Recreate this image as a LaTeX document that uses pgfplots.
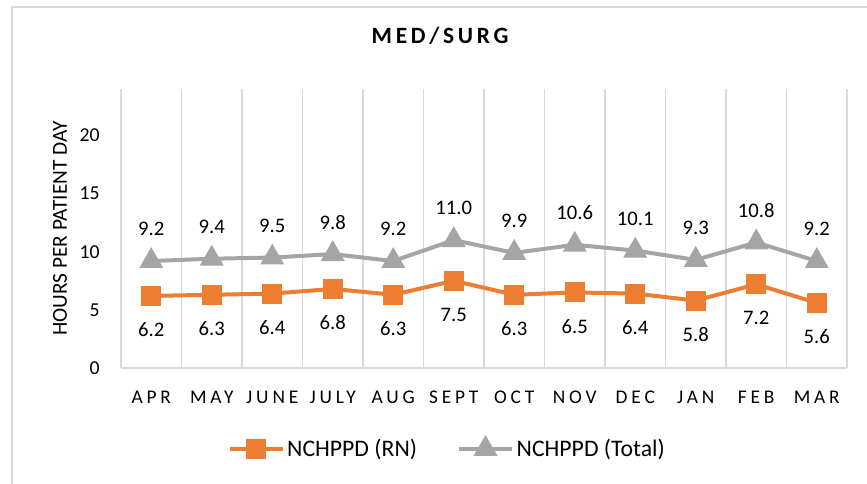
\documentclass[border=0pt]{standalone}
\usepackage{fontspec}
\setmainfont{Carlito}
\usepackage{pgfplots}
\pgfplotsset{compat=1.18}
\definecolor{rnorange}{HTML}{ED7D31}
\definecolor{totgray}{HTML}{A5A5A5}
\definecolor{gridgray}{HTML}{D9D9D9}
\begin{document}
\begin{tikzpicture}[x=1pt,y=1pt]
\useasboundingbox (0,0) rectangle (650.25,362.25);
\clip (0,0) rectangle (650.25,362.25);
\draw[gridgray, line width=1.2pt] (9,357) rectangle (700,-20);
\begin{axis}[
  at={(90.75pt,86.25pt)}, anchor=south west,
  scale only axis, width=544.5pt, height=209.25pt,
  xmin=-0.5, xmax=11.5, ymin=0, ymax=24,
  xtick={0,...,11},
  xticklabels={APR,MAY,JUNE,JULY,AUG,SEPT,OCT,NOV,DEC,JAN,FEB,MAR},
  ytick={0,5,10,15,20},
  minor xtick={-0.5,0.5,...,11.5},
  xminorgrids, minor grid style={gridgray, line width=0.9pt},
  extra y ticks={0}, extra y tick labels={},
  extra y tick style={grid=major, major grid style={gridgray, line width=0.9pt}},
  axis line style={draw=none},
  major tick length=0pt, minor tick length=0pt,
  /pgf/number format/assume math mode=true,
  xticklabel style={font=\fontsize{14.5}{16}\selectfont\addfontfeatures{LetterSpace=20}, anchor=center, yshift=-21.75pt, inner sep=0pt, text=black},
  yticklabel style={font=\fontsize{14.8}{16}\selectfont, anchor=east, inner sep=0pt, xshift=-15.75pt, text=black},
  title={MED/SURG},
  title style={at={(axis description cs:0.4394,1.161)}, anchor=center, font=\fontsize{17.5}{20}\selectfont\bfseries\addfontfeatures{LetterSpace=16}},
  ylabel={HOURS PER PATIENT DAY},
  ylabel style={at={(axis description cs:-0.084,0.5)}, anchor=center, font=\fontsize{16}{18}\selectfont},
  legend style={at={(0.4497,-0.290)}, anchor=center, draw=none, fill=none, legend columns=2,
    font=\fontsize{17.8}{20}\selectfont,
    /tikz/every even column/.append style={column sep=28pt}},
  legend image code/.code={\draw[mark repeat=2,mark phase=2,#1] plot coordinates {(0pt,0pt) (19.9pt,0pt) (39.75pt,0pt)};},
  nodes near coords={\pgfmathprintnumber[fixed,fixed zerofill,precision=1]{\pgfplotspointmeta}},
]
\addplot[rnorange, line width=3pt, mark=square*, mark size=6pt, mark options={solid},
  every node near coord/.append style={text=black, font=\fontsize{15.5}{18}\selectfont, anchor=center, yshift=-25.5pt}]
  coordinates {(0,6.2) (1,6.3) (2,6.4) (3,6.8) (4,6.3) (5,7.5) (6,6.3) (7,6.5) (8,6.4) (9,5.8) (10,7.2) (11,5.6)};
\addlegendentry{NCHPPD (RN)}
\addplot[totgray, line width=3pt, mark=triangle*, mark size=7.4pt, mark options={solid},
  every node near coord/.append style={text=black, font=\fontsize{15.5}{18}\selectfont, anchor=center, yshift=24pt}]
  coordinates {(0,9.2) (1,9.4) (2,9.5) (3,9.8) (4,9.2) (5,11.0) (6,9.9) (7,10.6) (8,10.1) (9,9.3) (10,10.8) (11,9.2)};
\addlegendentry{NCHPPD (Total)}
\end{axis}
\end{tikzpicture}
\end{document}
